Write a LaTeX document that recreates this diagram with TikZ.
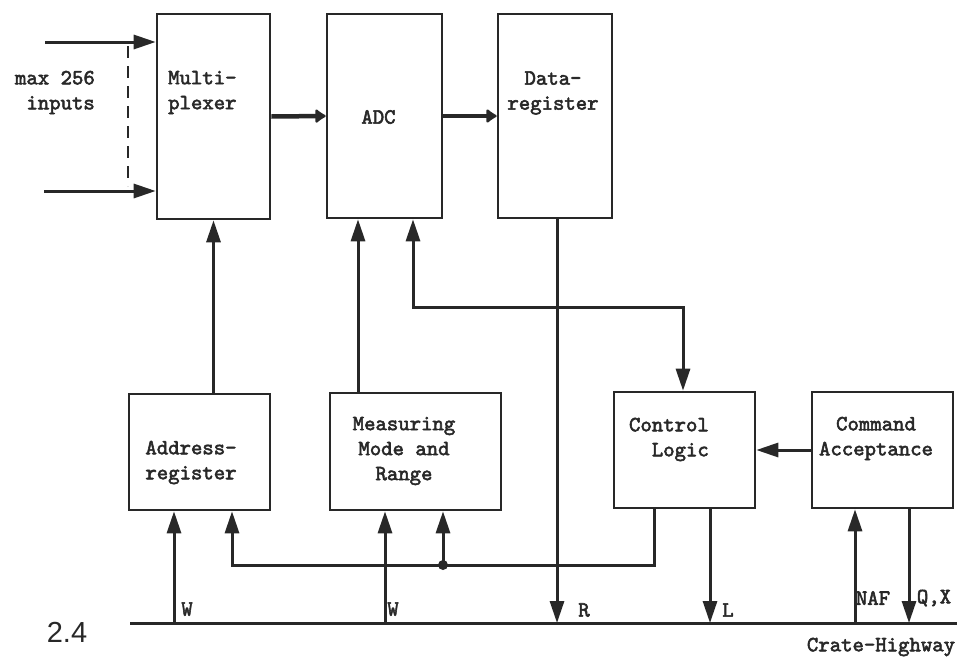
\documentclass[tikz,border=0pt]{standalone}
\usepackage{fontspec}
\newfontfamily\tw{lmmono10-regular.otf}[FakeBold=2.5]
\newfontfamily\figfont{Liberation Sans}
\usetikzlibrary{arrows.meta}
\definecolor{ink}{RGB}{40,40,40}
\begin{document}
\begin{tikzpicture}[x=1pt,y=-1pt,
  font=\tw\fontsize{21.7}{25}\selectfont,
  every node/.style={text=ink},
  box/.style={draw=ink, line width=2.6pt, inner sep=0pt},
  wire/.style={draw=ink, line width=3pt},
  thick wire/.style={draw=ink, line width=4.5pt},
  tri/.style={-{Triangle[length=22pt,width=14pt]}},
  blob/.style={-{Latex[length=12pt,width=17pt,round]}},
  txt/.style={inner sep=0pt}
  ]
\useasboundingbox[fill=white] (0,0) rectangle (965,656);

% boxes
\node[box, minimum width=113pt, minimum height=205pt] (mux)  at (213.5,116.5) {};
\node[box, minimum width=115pt, minimum height=204pt] (adc)  at (384.5,116) {};
\node[box, minimum width=114pt, minimum height=204pt] (dreg) at (555,116) {};
\node[box, minimum width=141pt, minimum height=116pt] (areg) at (199.5,452) {};
\node[box, minimum width=171pt, minimum height=117pt] (mmr)  at (415.5,451.5) {};
\node[box, minimum width=141pt, minimum height=116pt] (ctl)  at (684.5,450) {};
\node[box, minimum width=141pt, minimum height=116pt] (cmd)  at (882.5,450) {};

% texts
\node[txt, align=right, anchor=east] (tin) at (95,92.5) {max 256\\inputs};
\node[txt, align=left, anchor=west] (tmux) at (168,92.5) {Multi-\\plexer};
\node[txt] (tadc) at (378.5,117) {ADC};
\node[txt, align=center] (tdreg) at (553,93) {Data-\\register};
\node[txt, align=center] (tareg) at (191,462.5) {Address-\\register};
\node[txt, align=center] (tmmr) at (404,451) {Measuring\\Mode and\\Range};
\node[txt, align=right, anchor=east] (tctl) at (709,439.5) {Control\\Logic};
\node[txt, align=center] (tcmd) at (876,438.5) {Command\\Acceptance};

% bus
\coordinate (busL) at (130,623);
\coordinate (busR) at (957,623);
\draw[wire] (busL) -- (busR);
\coordinate (b1) at (174,623);
\coordinate (b2) at (385,623);
\coordinate (bR) at (557,623);
\coordinate (bL) at (710,623);
\coordinate (bN) at (855,623);
\coordinate (bQ) at (909,623);

\draw[wire,tri] (b1) -- (b1 |- areg.south);
\draw[wire,tri] (b2) -- (b2 |- mmr.south);
\draw[wire,tri] (bR |- dreg.south) -- (bR);
\draw[wire,tri] (bL |- ctl.south) -- (bL);
\draw[wire,tri] (bN) -- (bN |- cmd.south);
\draw[wire,tri] (bQ |- cmd.south) -- (bQ);

% bus labels
\node[txt] (lW1) at (187,609) {W};
\node[txt] (lW2) at (393,609) {W};
\node[txt] (lR) at (584,610) {R};
\node[txt] (lL) at (728,610) {L};
\node[txt] (lNAF) at (873,598) {NAF};
\node[txt] (lQX) at (934,598) {Q,X};
\node[txt] (lCH) at (881,647) {Crate-Highway};
\node[txt, font=\figfont\fontsize{29}{32}\selectfont] (fig) at (67,632) {2.4};

% inputs
\coordinate (in1) at (45,42);
\coordinate (in2) at (44,191);
\draw[wire,tri] (in1) -- (in1 -| mux.west);
\draw[wire,tri] (in2) -- (in2 -| mux.west);
\coordinate (d1) at (128,46);
\coordinate (d2) at (128,186);
\draw[draw=ink, line width=2pt, dash pattern=on 12pt off 8pt] (d1) -- (d2);

% data path
\draw[thick wire,blob] (mux.east) -- (adc.west);
\draw[thick wire,blob] (adc.east) -- (dreg.west);

% address -> mux
\draw[wire,tri] (areg.north -| mux.south) -- (mux.south);
% measuring -> adc
\coordinate (cM) at (358,300);
\draw[wire,tri] (mmr.north -| cM) -- (adc.south -| cM);
% adc <-> control
\coordinate (cA) at (413,307);
\coordinate (cC) at (683,307);
\draw[wire,{Triangle[length=22pt,width=14pt]}-{Triangle[length=22pt,width=14pt]}]
  (adc.south -| cA) -- (cA) -- (cC) -- (ctl.north -| cC);
% control -> address & measuring
\coordinate (k1) at (654,565);
\coordinate (k2) at (232,565);
\coordinate (jd) at (443,565);
\draw[wire,tri] (ctl.south -| k1) -- (k1) -- (k2) -- (areg.south -| k2);
\draw[wire,tri] (jd) -- (mmr.south -| jd);
\fill[ink] (jd) circle (5pt);
% command -> control
\draw[wire,tri] (cmd.west) -- (ctl.east);
\end{tikzpicture}
\end{document}
